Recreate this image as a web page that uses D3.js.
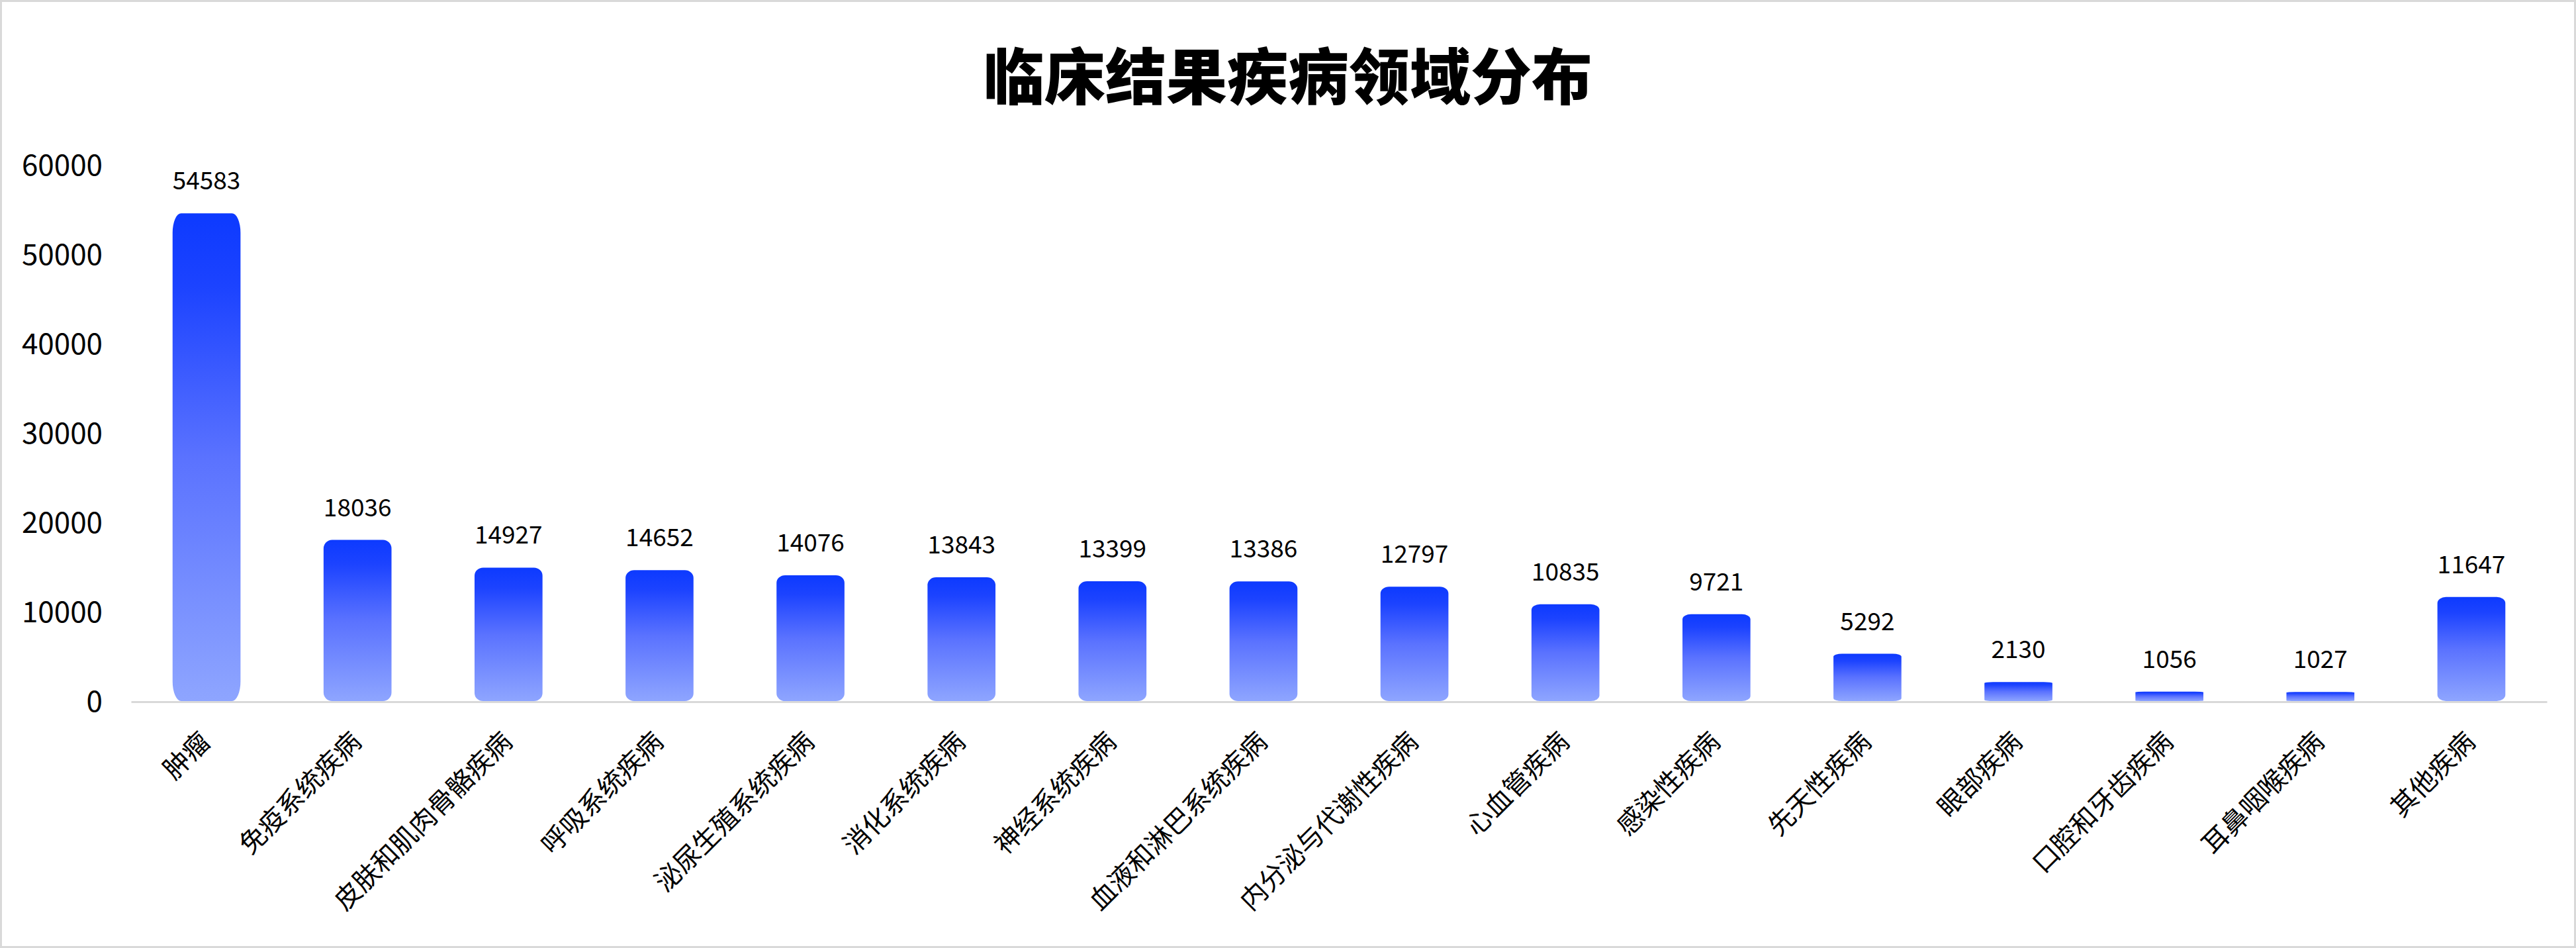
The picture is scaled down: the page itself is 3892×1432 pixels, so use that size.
<!DOCTYPE html>
<html>
<head>
<meta charset="utf-8">
<script src="https://cdn.jsdelivr.net/npm/d3@7/dist/d3.min.js"></script>
<style>
	body { margin: 0; background: #fff; }
	svg { display: block; font-family: "Noto Sans CJK SC", "Noto Sans", sans-serif; }
</style>
</head>
<body>
<div id="chart"></div>
<script>
/*///////////////////////////////////////////////////////////
//Data
///////////////////////////////////////////////////////////*/
var titleText = "临床结果疾病领域分布";

var categories = ["肿瘤", "免疫系统疾病", "皮肤和肌肉骨骼疾病", "呼吸系统疾病", "泌尿生殖系统疾病",
	"消化系统疾病", "神经系统疾病", "血液和淋巴系统疾病", "内分泌与代谢性疾病", "心血管疾病",
	"感染性疾病", "先天性疾病", "眼部疾病", "口腔和牙齿疾病", "耳鼻咽喉疾病", "其他疾病"];

var counts = [54583, 18036, 14927, 14652, 14076, 13843, 13399, 13386, 12797, 10835,
	9721, 5292, 2130, 1056, 1027, 11647];

var yTicks = [0, 10000, 20000, 30000, 40000, 50000, 60000];

/*///////////////////////////////////////////////////////////
//Setup
///////////////////////////////////////////////////////////*/
var width = 3892,
	height = 1432;

var svg = d3.select("#chart").append("svg")
	.attr("width", width)
	.attr("height", height);

/*Outer frame*/
svg.append("rect")
	.attr("x", 1.5)
	.attr("y", 1.5)
	.attr("width", width - 3)
	.attr("height", height - 3)
	.attr("fill", "#fff")
	.attr("stroke", "#d9d9d9")
	.attr("stroke-width", 3);

var x = d3.scaleBand()
	.domain(categories)
	.range([198, 3848])
	.paddingInner(0.55)
	.paddingOuter(0.275);

var y = d3.scaleLinear()
	.domain([0, 60000])
	.range([1059, 249]);

/*Gradient for the bars*/
var grad = svg.append("defs").append("linearGradient")
	.attr("id", "barGrad")
	.attr("x1", 0).attr("y1", 0)
	.attr("x2", 0).attr("y2", 1);
grad.append("stop").attr("offset", "0%").attr("stop-color", "#0d3aff");
grad.append("stop").attr("offset", "15%").attr("stop-color", "#1c43ff");
grad.append("stop").attr("offset", "50%").attr("stop-color", "#5a72ff");
grad.append("stop").attr("offset", "100%").attr("stop-color", "#8ea5ff");

/*Title*/
svg.append("text")
	.attr("x", width / 2)
	.attr("y", 150)
	.attr("text-anchor", "middle")
	.style("font-size", "92px")
	.style("font-weight", 900)
	.style("fill", "#000")
	.text(titleText);

/*///////////////////////////////////////////////////////////
//Axes
///////////////////////////////////////////////////////////*/
var yAxis = svg.append("g")
	.attr("transform", "translate(155,0)")
	.call(d3.axisLeft(y).tickValues(yTicks).tickSize(0).tickPadding(0).tickFormat(d3.format("d")));
yAxis.select(".domain").remove();
yAxis.selectAll("text")
	.attr("dy", "0.36em")
	.style("font-family", "'Noto Sans CJK SC', sans-serif")
	.style("font-size", "44px")
	.style("fill", "#000");

var xAxis = svg.append("g")
	.attr("transform", "translate(0,1060)")
	.call(d3.axisBottom(x).tickSize(0).tickSizeOuter(0));
xAxis.select(".domain")
	.attr("stroke", "#d9d9d9")
	.attr("stroke-width", 3);
xAxis.selectAll("text")
	.attr("y", 0)
	.attr("dy", 0)
	.attr("text-anchor", "end")
	.attr("transform", "translate(8,63) rotate(-45)")
	.style("font-family", "'Noto Sans CJK SC', sans-serif")
	.style("font-size", "40px")
	.style("fill", "#000");

/*///////////////////////////////////////////////////////////
//Bars
///////////////////////////////////////////////////////////*/
function barPath(x0, y0, w, h) {
	var rx = Math.min(13, w / 2),
		ry = Math.max(h * 0.04, Math.min(13, h * 0.06));
	return "M" + x0 + "," + (y0 + ry) +
		"A" + rx + "," + ry + " 0 0 1 " + (x0 + rx) + "," + y0 +
		"H" + (x0 + w - rx) +
		"A" + rx + "," + ry + " 0 0 1 " + (x0 + w) + "," + (y0 + ry) +
		"V" + (y0 + h - ry) +
		"A" + rx + "," + ry + " 0 0 1 " + (x0 + w - rx) + "," + (y0 + h) +
		"H" + (x0 + rx) +
		"A" + rx + "," + ry + " 0 0 1 " + x0 + "," + (y0 + h - ry) +
		"Z";
}

var bars = svg.append("g").selectAll(".bar")
	.data(categories)
	.enter().append("g")
	.attr("class", "bar");

bars.append("path")
	.attr("d", function(d, i) {
		return barPath(x(d), y(counts[i]), x.bandwidth(), y(0) - y(counts[i]));
	})
	.attr("fill", "url(#barGrad)");

bars.append("text")
	.attr("x", function(d) { return x(d) + x.bandwidth() / 2; })
	.attr("y", function(d, i) { return y(counts[i]) - 36; })
	.attr("text-anchor", "middle")
	.style("font-size", "37px")
	.style("fill", "#000")
	.text(function(d, i) { return counts[i]; });
</script>
</body>
</html>
